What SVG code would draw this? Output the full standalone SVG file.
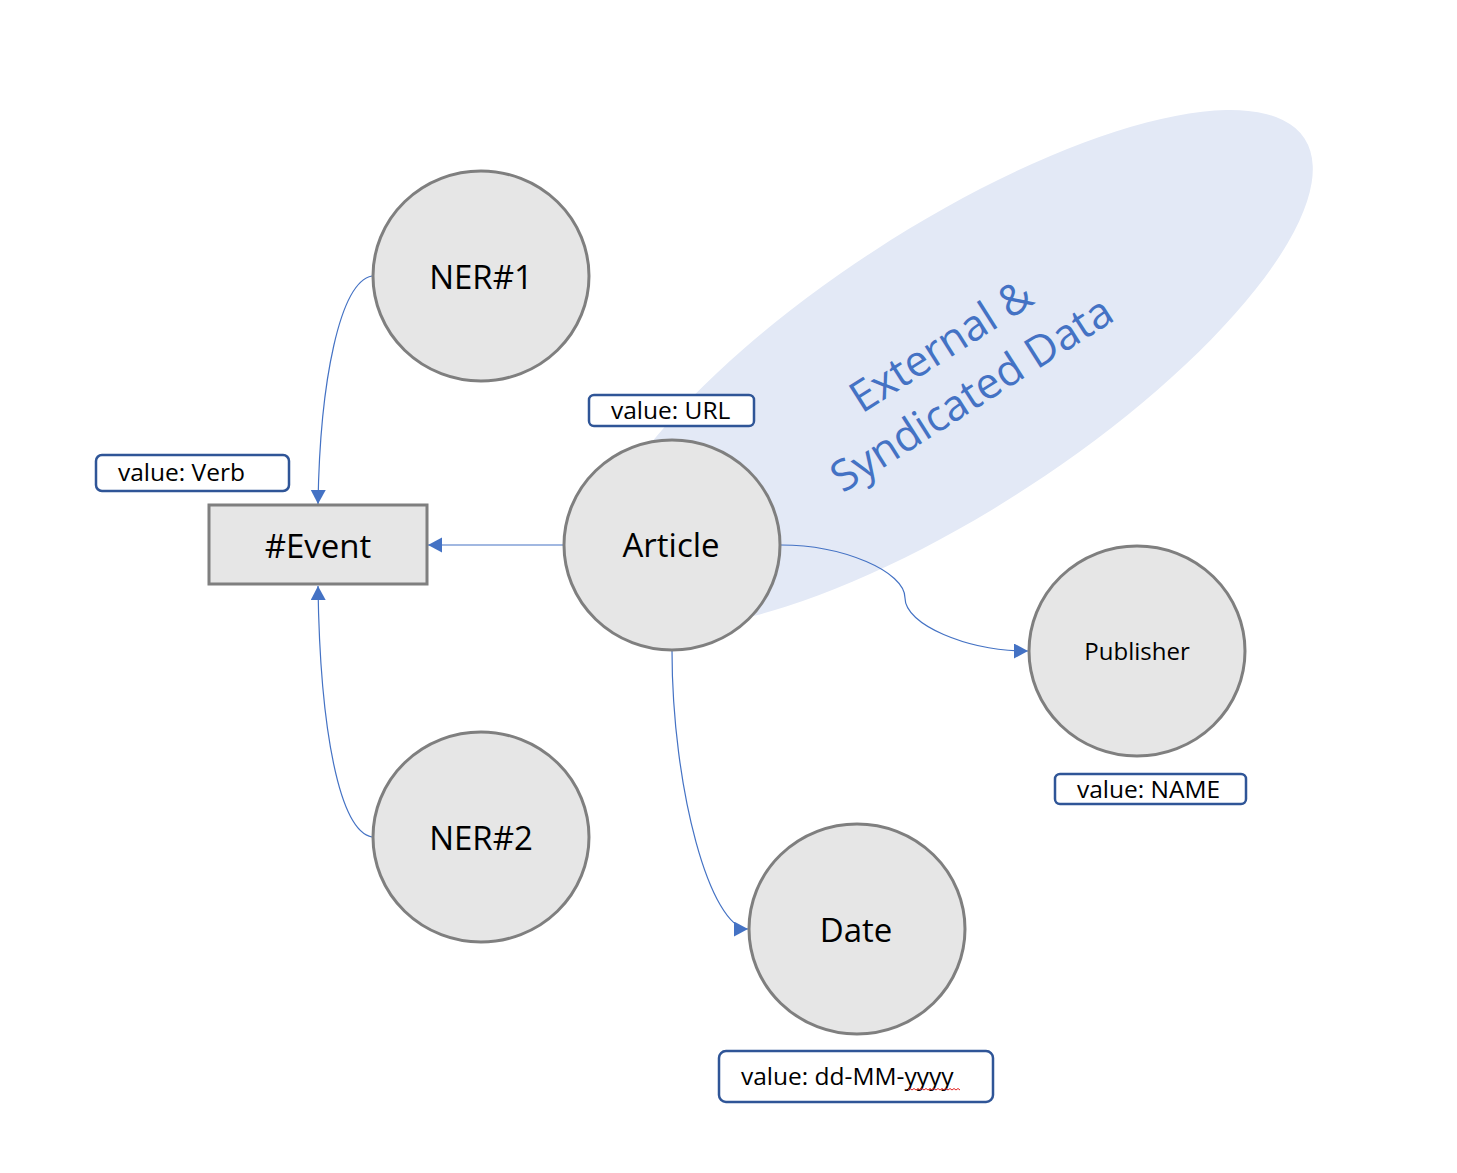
<svg xmlns="http://www.w3.org/2000/svg" width="1457" height="1173" viewBox="0 0 1457 1173">
<style>
.node{fill:#E6E6E6;stroke:#7F7F7F;stroke-width:3}
.lbl{font-family:"Open Sans","Noto Sans","Liberation Sans",sans-serif;fill:#000;text-anchor:middle}
.big{font-size:33px}
.val{fill:#FFFFFF;stroke:#2F5597;stroke-width:2.5}
.vt{font-family:"Open Sans","Noto Sans","Liberation Sans",sans-serif;font-size:24.5px;fill:#000}
.conn{fill:none;stroke:#4472C4;stroke-width:1.2;marker-end:url(#arr)}
.ext{font-family:"Open Sans","Noto Sans","Liberation Sans",sans-serif;font-size:43px;fill:#4472C4;text-anchor:middle}
</style>
<defs>
<marker id="arr" markerUnits="userSpaceOnUse" markerWidth="16" markerHeight="16" refX="14" refY="7.5" orient="auto">
<path d="M0,0 L14,7.5 L0,15 Z" fill="#4472C4"/>
</marker>
</defs>
<rect width="1457" height="1173" fill="#FFFFFF"/>
<g id="external-data">
<ellipse cx="951" cy="369" rx="422" ry="141" transform="rotate(-33.1 951 369)" fill="#E3E9F6"/>
<g transform="rotate(-32.5 964 382)">
<text class="ext" x="964" y="354">External &amp;</text>
<text class="ext" x="964" y="411">Syndicated Data</text>
</g>
</g>
<g id="connectors">
<path class="conn" d="M372,276 C340,282 320,380 318,504"/>
<path class="conn" d="M372,837 C340,831 320,733 318,586"/>
<path class="conn" d="M564,545 L428,545"/>
<path class="conn" d="M781,545 C843,545 905,571.5 905,598 C905,624.5 967,651 1028,651"/>
<path class="conn" d="M672,650 C672,789.5 710.5,929 748,929"/>
</g>
<g id="ner1">
<ellipse class="node" cx="481" cy="276" rx="108" ry="105"/>
<text class="lbl big" x="481" y="289">NER#1</text>
</g>
<g id="ner2">
<ellipse class="node" cx="481" cy="837" rx="108" ry="105"/>
<text class="lbl big" x="481" y="850">NER#2</text>
</g>
<g id="event">
<rect class="node" x="209" y="505" width="218" height="79"/>
<text class="lbl big" x="318" y="558">#Event</text>
</g>
<g id="event-value">
<rect class="val" x="96" y="455" width="193" height="36" rx="6"/>
<text class="vt" x="118" y="481">value: Verb</text>
</g>
<g id="article">
<ellipse class="node" cx="672" cy="545" rx="108" ry="105"/>
<text class="lbl big" x="671" y="557">Article</text>
</g>
<g id="article-value">
<rect class="val" x="589" y="395" width="165" height="31" rx="5"/>
<text class="vt" x="611" y="419">value: URL</text>
</g>
<g id="publisher">
<ellipse class="node" cx="1137" cy="651" rx="108" ry="105"/>
<text class="lbl" style="font-size:24px" x="1137" y="660">Publisher</text>
</g>
<g id="publisher-value">
<rect class="val" x="1055" y="774" width="191" height="30" rx="5"/>
<text class="vt" x="1077" y="798">value: NAME</text>
</g>
<g id="date">
<ellipse class="node" cx="857" cy="929" rx="108" ry="105"/>
<text class="lbl big" x="856" y="942">Date</text>
</g>
<g id="date-value">
<rect class="val" x="719" y="1051" width="274" height="51" rx="7"/>
<text class="vt" x="741" y="1085">value: dd-MM-yyyy</text>
<path d="M908,1090 l2,-1.5 l2,1.5 l2,-1.5 l2,1.5 l2,-1.5 l2,1.5 l2,-1.5 l2,1.5 l2,-1.5 l2,1.5 l2,-1.5 l2,1.5 l2,-1.5 l2,1.5 l2,-1.5 l2,1.5 l2,-1.5 l2,1.5 l2,-1.5 l2,1.5 l2,-1.5 l2,1.5 l2,-1.5 l2,1.5 l2,-1.5 l2,1.5" fill="none" stroke="#E02020" stroke-width="1"/>
</g>
</svg>
